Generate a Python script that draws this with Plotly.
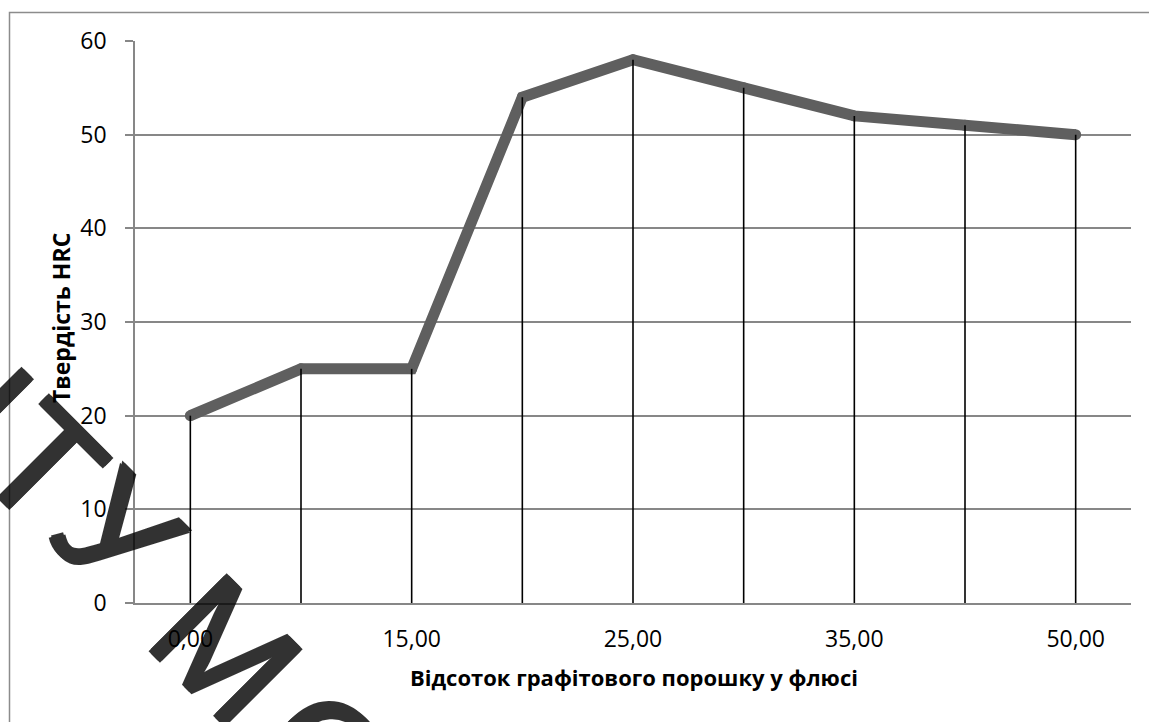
import plotly.graph_objects as go

# Graphite powder share in the flux (category labels) and measured hardness
graphite_pct = ["0,00", "10,00", "15,00", "20,00", "25,00", "30,00", "35,00", "45,00", "50,00"]
hardness_hrc = [20, 25, 25, 54, 58, 55, 52, 51, 50]
shown_ticks = ["0,00", "15,00", "25,00", "35,00", "50,00"]
y_ticks = [0, 10, 20, 30, 40, 50, 60]

W, H = 1149, 722
ML, MR, MT, MB = 135, 18, 41, 119
PW, PH = W - ML - MR, H - MT - MB


def px(x):
    return (x - ML) / PW


def py(y):
    return (H - MB - y) / PH


GRID = "#878787"
LINE = "#5f5f5f"
FONT = "Open Sans"

fig = go.Figure()

# drop lines from every point down to the category axis
drop_x, drop_y = [], []
for cat, val in zip(graphite_pct, hardness_hrc):
    drop_x += [cat, cat, None]
    drop_y += [val, 0, None]

fig.add_trace(go.Scatter(
    x=graphite_pct, y=hardness_hrc, mode="lines+markers",
    line=dict(color=LINE, width=11),
    marker=dict(color=LINE, size=11),
    hoverinfo="x+y", showlegend=False,
))
fig.add_trace(go.Scatter(
    x=drop_x, y=drop_y, mode="lines",
    line=dict(color="#000000", width=1.6),
    hoverinfo="skip", showlegend=False,
))

fig.update_layout(
    width=W, height=H,
    margin=dict(l=ML, r=MR, t=MT, b=MB, pad=0),
    paper_bgcolor="#ffffff", plot_bgcolor="#ffffff",
    font=dict(family=FONT, size=23, color="#000000"),
    showlegend=False,
)

fig.update_xaxes(
    type="category", categoryorder="array", categoryarray=graphite_pct,
    range=[-0.5, len(graphite_pct) - 0.5],
    tickmode="array", tickvals=shown_ticks, ticktext=shown_ticks,
    showgrid=False, zeroline=False,
    showline=True, linecolor=GRID, linewidth=1.6,
    ticks="", ticklabelstandoff=15,
    tickfont=dict(family=FONT, size=23, color="#000000"),
)
fig.update_yaxes(
    range=[0, 60], tickmode="array", tickvals=y_ticks,
    showgrid=True, gridcolor=GRID, gridwidth=1.6,
    zeroline=False,
    showline=True, linecolor=GRID, linewidth=1.6,
    ticks="outside", ticklen=8, tickcolor=GRID, tickwidth=1.6,
    ticklabelstandoff=14,
    tickfont=dict(family=FONT, size=23, color="#000000"),
)

annotations = [
    dict(text="<b>Відсоток графітового порошку у флюсі</b>",
         x=px(634), y=py(677), xref="paper", yref="paper",
         xanchor="center", yanchor="middle", showarrow=False,
         font=dict(family=FONT, size=22, color="#000000")),
    dict(text="<b>Твердість HRC</b>", textangle=-90,
         x=px(61), y=py(318), xref="paper", yref="paper",
         xanchor="center", yanchor="middle", showarrow=False,
         font=dict(family=FONT, size=23, color="#000000")),
]

# diagonal watermark lettering, strokes thickened with a text shadow
thicken = ("1.6px 1.6px 0 #000, -1.6px -1.6px 0 #000, "
           "1.6px -1.6px 0 #000, -1.6px 1.6px 0 #000")
for ch, cx, cy in [("Н", -37, 386), ("Т", 42, 464), ("У", 117, 533),
                   ("М", 226, 650), ("С", 324, 756)]:
    annotations.append(dict(
        text=ch, textangle=45, x=px(cx), y=py(cy),
        xref="paper", yref="paper", xanchor="center", yanchor="middle",
        showarrow=False, opacity=0.8,
        font=dict(family="Liberation Sans", size=156, color="#000000",
                  shadow=thicken),
    ))

fig.update_layout(annotations=annotations)

# chart area frame
fig.add_shape(type="rect", xref="paper", yref="paper",
              x0=px(9.5), x1=px(W + 20), y0=py(12.5), y1=py(H + 20),
              line=dict(color="#8c8c8c", width=1.5), fillcolor="rgba(0,0,0,0)",
              layer="below")

fig.write_html("out.html")
